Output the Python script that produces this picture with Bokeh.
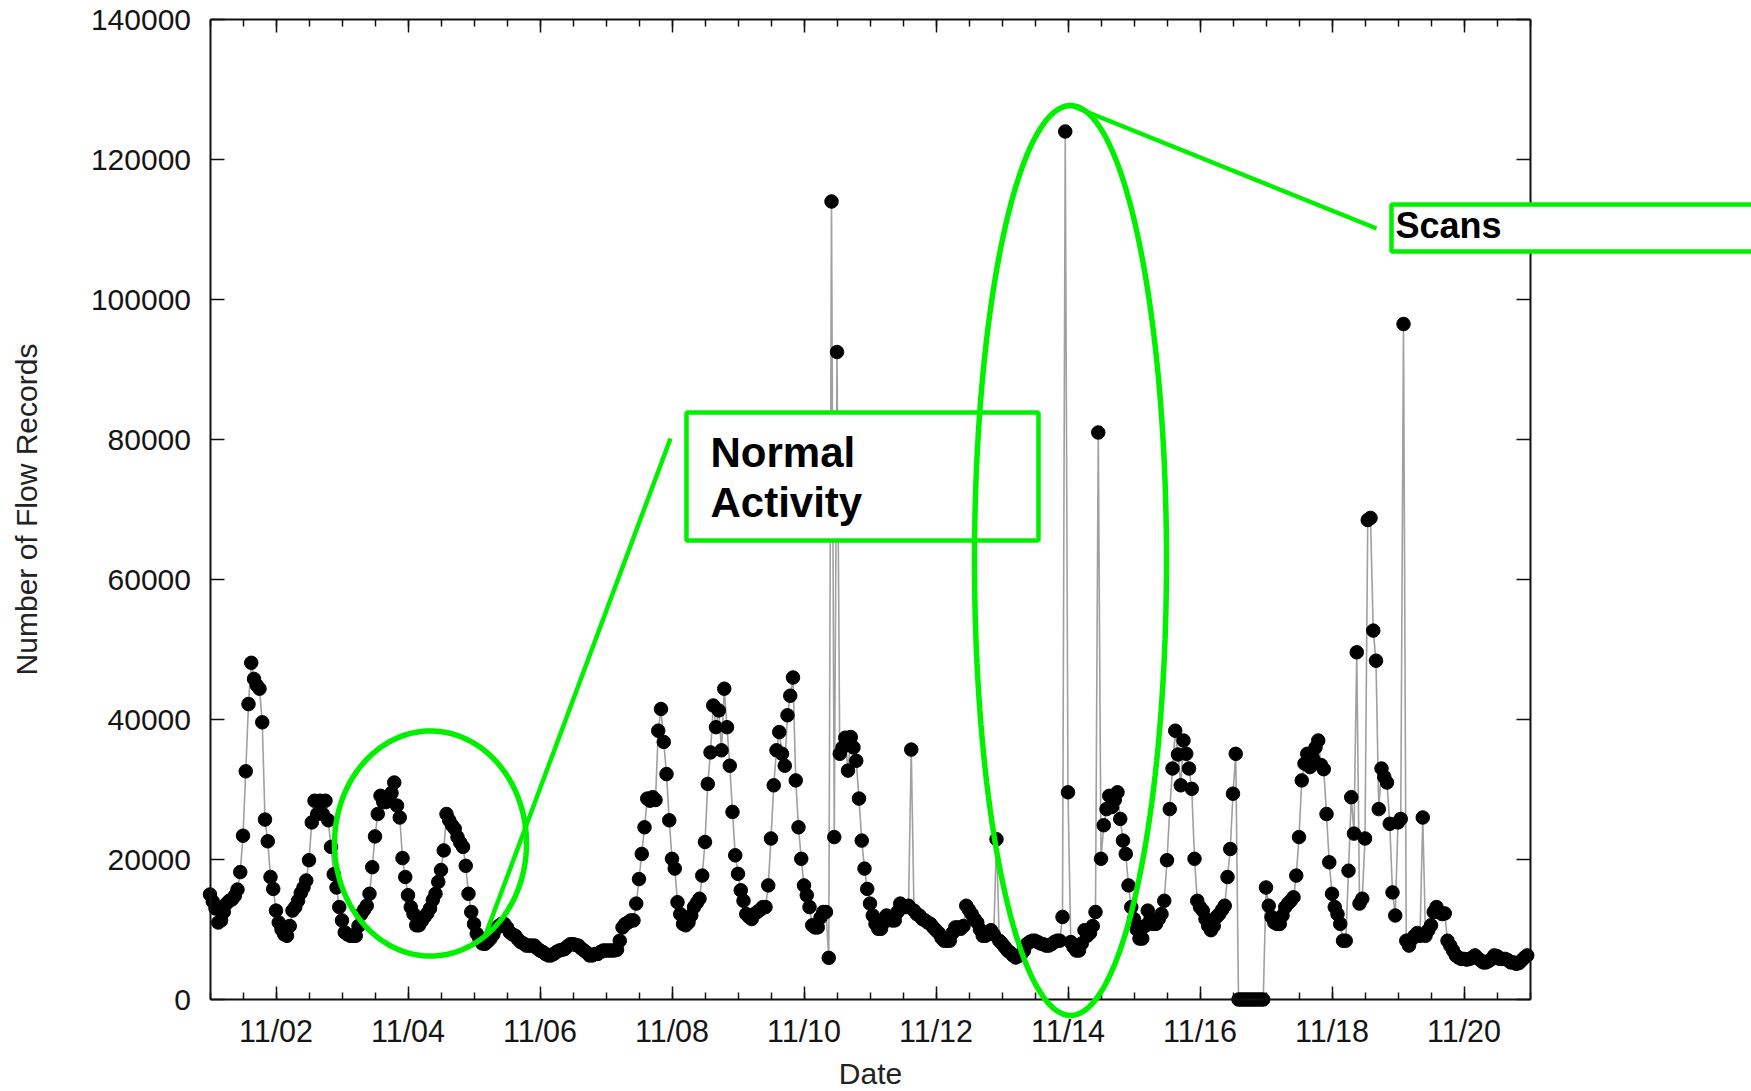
import numpy as np
from bokeh.plotting import figure
from bokeh.models import FixedTicker, LinearAxis, Label, PolyAnnotation, Arrow, Range1d
from bokeh.embed import file_html
from bokeh.resources import INLINE

# ---------------- data: hourly flow-record counts, one list per day ----------------
nov01 = [15000, 14000, 13000, 11000, 11300, 12500, 13700, 14100, 14300, 14800, 15700, 18200,
         23400, 32600, 42200, 48100, 45800, 44900, 44400, 39600, 25700, 22600, 17500, 15800]
nov02 = [12700, 11000, 10000, 9300, 9100, 10500, 12700, 13200, 14100, 15200, 16000, 17000,
         19900, 25300, 28400, 26500, 28400, 26500, 28400, 25600, 21800, 17900, 16000, 13200]
nov03 = [11300, 9600, 9300, 9100, 9100, 9100, 10500, 12200, 12800, 13400, 15100, 18900,
         23300, 26500, 29100, 28200, 28200, 29000, 29500, 31000, 27700, 26000, 20200, 17500]
nov04 = [14900, 13200, 12200, 10600, 10600, 11200, 11800, 12300, 13000, 14200, 15100, 16800,
         18500, 21300, 26500, 25600, 24900, 24400, 23200, 22400, 21800, 19100, 15100, 12500]
nov05 = [10800, 9400, 8600, 8000, 7950, 8300, 8700, 9300, 10100, 10500, 10800, 10800,
         10300, 9600, 9300, 9100, 8600, 8200, 8000, 7700, 7700, 7700, 7700, 7300]
nov06 = [7000, 6800, 6500, 6300, 6300, 6500, 6800, 7000, 7100, 7200, 7600, 7900,
         7900, 7800, 7700, 7300, 7000, 6700, 6300, 6300, 6500, 6500, 6800, 7000]
nov07 = [7000, 7000, 7000, 7000, 7100, 8400, 10300, 10800, 11000, 11300, 11300, 13700,
         17200, 20800, 24600, 28700, 28400, 28900, 28500, 38400, 41500, 36800, 32200, 25600]
nov08 = [20100, 18700, 13900, 12200, 10800, 10600, 11000, 12000, 13200, 13800, 14400, 17700,
         22500, 30800, 35300, 42000, 38900, 41300, 35600, 44400, 38900, 33400, 26800, 20600]
nov09 = [17950, 15600, 14100, 12200, 11800, 11500, 12200, 12500, 12800, 13200, 13200, 16300,
         23000, 30600, 35600, 38200, 35100, 33400, 40600, 43400, 46000, 31300, 24600, 20100]
nov10 = [16300, 14900, 13200, 10600, 10300, 10300, 11700, 12500, 12500, 5950, 114000, 23200,
         92500, 35100, 36000, 37400, 32700, 37500, 36000, 34100, 28700, 22700, 18700, 15800]
nov11 = [13700, 12000, 10800, 10100, 10100, 11000, 12000, 11500, 11300, 11300, 12500, 13700,
         13200, 13200, 13400, 35700, 12700, 12200, 12000, 11500, 11300, 11000, 10800, 10300]
nov12 = [9900, 9500, 8800, 8400, 8400, 8400, 9500, 10300, 10300, 10100, 10500, 13400,
         12800, 12200, 11500, 11000, 10000, 9100, 9100, 9500, 9900, 9300, 22900, 8400]
nov13 = [8000, 7500, 7000, 6700, 6300, 6000, 6200, 6500, 7000, 7900, 8200, 8400,
         8400, 8200, 8000, 7900, 7700, 7700, 7900, 8200, 8400, 8400, 11800, 124000]
nov14 = [29600, 8200, 7500, 7000, 7000, 8000, 9900, 9100, 9500, 10500, 12500, 81000,
         20100, 24900, 27200, 29100, 27500, 28500, 29600, 25800, 22700, 20800, 16300, 13200]
nov15 = [11500, 10000, 8700, 8700, 10500, 12700, 11500, 10800, 10800, 11500, 12200, 14100,
         19900, 27200, 33000, 38400, 35000, 30600, 37000, 35100, 33000, 30100, 20100, 14100]
nov16 = [13200, 12700, 11500, 10500, 9900, 10500, 11800, 12200, 12800, 13400, 17500, 21500,
         29400, 35100, 0, 0, 0, 0, 0, 0, 0, 0, 0, 0]
nov17 = [16000, 13400, 11800, 11000, 10800, 10800, 12000, 13200, 13700, 14100, 14600, 17700,
         23200, 31300, 33700, 35100, 33200, 34500, 36000, 37000, 33500, 32900, 26500, 19600]
nov18 = [15100, 13200, 12200, 10800, 8400, 8400, 18400, 28900, 23700, 49600, 13700, 14400,
         23000, 68500, 68800, 52700, 48400, 27200, 33000, 31800, 31000, 25100, 15300, 12000]
nov19 = [25300, 25800, 96500, 8400, 7700, 8600, 9100, 9500, 9100, 26000, 9100, 9900,
         10600, 12500, 13200, 12500, 12200, 12300, 8400, 7700, 7000, 6300, 6000, 5800]
nov20 = [5800, 5700, 5800, 6000, 6300, 5900, 5600, 5300, 5300, 5500, 5800, 6300,
         6200, 5800, 5800, 5800, 5600, 5300, 5300, 5100, 5200, 5600, 6000, 6300]

x_tick_days = [2, 4, 6, 8, 10, 12, 14, 16, 18, 20]
x_tick_labels = ["11/02", "11/04", "11/06", "11/08", "11/10",
                 "11/12", "11/14", "11/16", "11/18", "11/20"]
y_ticks = [0, 20000, 40000, 60000, 80000, 100000, 120000, 140000]
y_tick_labels = ["0", "20000", "40000", "60000", "80000", "100000", "120000", "140000"]
X_MIN, X_MAX = 1, 21
Y_MIN, Y_MAX = 0, 140000

days = [nov01, nov02, nov03, nov04, nov05, nov06, nov07, nov08, nov09, nov10,
        nov11, nov12, nov13, nov14, nov15, nov16, nov17, nov18, nov19, nov20]
flows = [v for d in days for v in d]
t_day = [X_MIN + i / 24.0 for i in range(len(flows))]

# ---------------- layout geometry (pixels) ----------------
W, H = 1751, 1091
BOX_L, BOX_R, BOX_T, BOX_B = 209.5, 1529.5, 19.0, 999.0
PX_PER_X = (BOX_R - BOX_L) / (X_MAX - X_MIN)
PX_PER_Y = (BOX_B - BOX_T) / (Y_MAX - Y_MIN)
FONT = "Liberation Sans"
GREEN = "#00f000"
INK = "#111111"

# the frame covers the whole canvas; the plot box is drawn by fixed-location axes
x_range = Range1d(X_MIN - BOX_L / PX_PER_X, X_MIN + (W - BOX_L) / PX_PER_X)
y_range = Range1d(Y_MIN - (H - BOX_B) / PX_PER_Y, Y_MIN + BOX_B / PX_PER_Y)

p = figure(width=W, height=H, x_range=x_range, y_range=y_range,
           output_backend="svg", toolbar_location=None,
           min_border_left=0, min_border_right=0, min_border_top=0, min_border_bottom=0)
p.title.visible = False
p.xgrid.visible = False
p.ygrid.visible = False
p.outline_line_color = None
p.background_fill_color = "white"
p.border_fill_color = "white"

minor_x = [X_MIN + 0.5 * k for k in range(41)]

# bottom axis (labelled)
bx_ax = p.xaxis[0]
bx_ax.fixed_location = Y_MIN
bx_ax.bounds = (X_MIN, X_MAX)
bx_ax.ticker = FixedTicker(ticks=x_tick_days, minor_ticks=minor_x)
bx_ax.major_label_overrides = {d: l for d, l in zip(x_tick_days, x_tick_labels)}
bx_ax.axis_line_color = INK
bx_ax.axis_line_width = 2
bx_ax.major_tick_in = 13
bx_ax.major_tick_out = 0
bx_ax.minor_tick_in = 7
bx_ax.minor_tick_out = 0
bx_ax.major_tick_line_color = INK
bx_ax.minor_tick_line_color = INK
bx_ax.major_tick_line_width = 1.5
bx_ax.minor_tick_line_width = 1.5
bx_ax.major_label_text_font = FONT
bx_ax.major_label_text_font_size = "30.5px"
bx_ax.major_label_text_color = "#151515"
bx_ax.major_label_standoff = 14
bx_ax.axis_label = "Date"
bx_ax.axis_label_standoff = 6

# left axis (labelled)
ly_ax = p.yaxis[0]
ly_ax.fixed_location = X_MIN
ly_ax.bounds = (Y_MIN, Y_MAX)
ly_ax.ticker = FixedTicker(ticks=y_ticks, minor_ticks=[])
ly_ax.major_label_overrides = {v: l for v, l in zip(y_ticks, y_tick_labels)}
ly_ax.axis_line_color = INK
ly_ax.axis_line_width = 2
ly_ax.major_tick_in = 14
ly_ax.major_tick_out = 0
ly_ax.minor_tick_in = 0
ly_ax.minor_tick_out = 0
ly_ax.major_tick_line_color = INK
ly_ax.major_tick_line_width = 1.5
ly_ax.major_label_text_font = FONT
ly_ax.major_label_text_font_size = "30px"
ly_ax.major_label_text_color = "#151515"
ly_ax.major_label_standoff = 19
ly_ax.axis_label = "Number of Flow Records"
ly_ax.axis_label_standoff = 45

for ax in (bx_ax, ly_ax):
    ax.axis_label_text_font = FONT
    ax.axis_label_text_font_size = "30px"
    ax.axis_label_text_font_style = "normal"
    ax.axis_label_text_color = "#222222"

# mirrored tick-only axes along the top and right edges of the box.
# They sit in the below/left panels at a fixed location, so their "out" ticks point into the box.
def tick_axis(ticks, tick_len, loc, bounds, line_color):
    ax = LinearAxis(fixed_location=loc, bounds=bounds,
                    ticker=FixedTicker(ticks=[], minor_ticks=ticks))
    ax.axis_line_color = line_color
    ax.axis_line_width = 2
    ax.major_tick_line_color = None
    ax.major_tick_in = 0
    ax.major_tick_out = 0
    ax.minor_tick_in = 0
    ax.minor_tick_out = tick_len
    ax.minor_tick_line_color = INK
    ax.minor_tick_line_width = 1.5
    ax.major_label_standoff = 0
    return ax

p.add_layout(tick_axis(minor_x, 7, Y_MAX, (X_MIN, X_MAX), INK), "below")
p.add_layout(tick_axis(x_tick_days, 13, Y_MAX, (X_MIN, X_MAX), None), "below")
p.add_layout(tick_axis(y_ticks, 14, X_MAX, (Y_MIN, Y_MAX), INK), "left")

# ---------------- data marks ----------------
p.line(t_day, flows, line_color="#a0a0a0", line_width=1.6)
p.scatter(t_day, flows, size=13.5, fill_color="black", line_color="black")

# ---------------- annotations (pixel geometry -> data coords) ----------------
def X(px):
    return X_MIN + (px - BOX_L) / PX_PER_X

def Y(py):
    return Y_MIN + (BOX_B - py) / PX_PER_Y

def rect(l, t, r, b):
    return [X(l), X(r), X(r), X(l)], [Y(t), Y(t), Y(b), Y(b)]

def ellipse(cx, cy, rx, ry, n=180):
    a = np.linspace(0, 2 * np.pi, n)
    return list(X(cx + rx * np.cos(a))), list(Y(cy + ry * np.sin(a)))

def poly(xs, ys, fill, lw):
    return PolyAnnotation(xs=xs, ys=ys, fill_color=fill, fill_alpha=1.0 if fill else 0.0,
                          line_color=GREEN, line_alpha=1.0, line_width=lw)

def seg(x0, y0, x1, y1):
    return Arrow(end=None, x_start=X(x0), y_start=Y(y0), x_end=X(x1), y_end=Y(y1),
                 line_color=GREEN, line_alpha=1.0, line_width=4.5)

def text(px, py, s, size):
    return Label(x=X(px), y=Y(py), text=s, text_font=FONT, text_font_style="bold",
                 text_font_size=size, text_color="black", text_baseline="alphabetic")

# Normal Activity
nbx, nby = rect(686, 412, 1038, 540)
p.add_layout(poly(nbx, nby, "white", 4.5))
p.add_layout(text(710, 452, "Normal", "42px"))
p.add_layout(text(710, 502, "Activity", "42px"))
p.add_layout(seg(484, 937, 670, 438))
ex, ey = ellipse(430, 843, 96, 112.5)
p.add_layout(poly(ex, ey, None, 5.5))

# Scans
ex2, ey2 = ellipse(1070, 560, 96, 455)
p.add_layout(poly(ex2, ey2, None, 5.5))
p.add_layout(seg(1068, 104, 1376, 228))
sbx, sby = rect(1391, 204, 1765, 251)
p.add_layout(poly(sbx, sby, "white", 4.5))
p.add_layout(text(1395, 225, "Scans", "36px"))

open("out.html", "w").write(file_html(p, INLINE))
